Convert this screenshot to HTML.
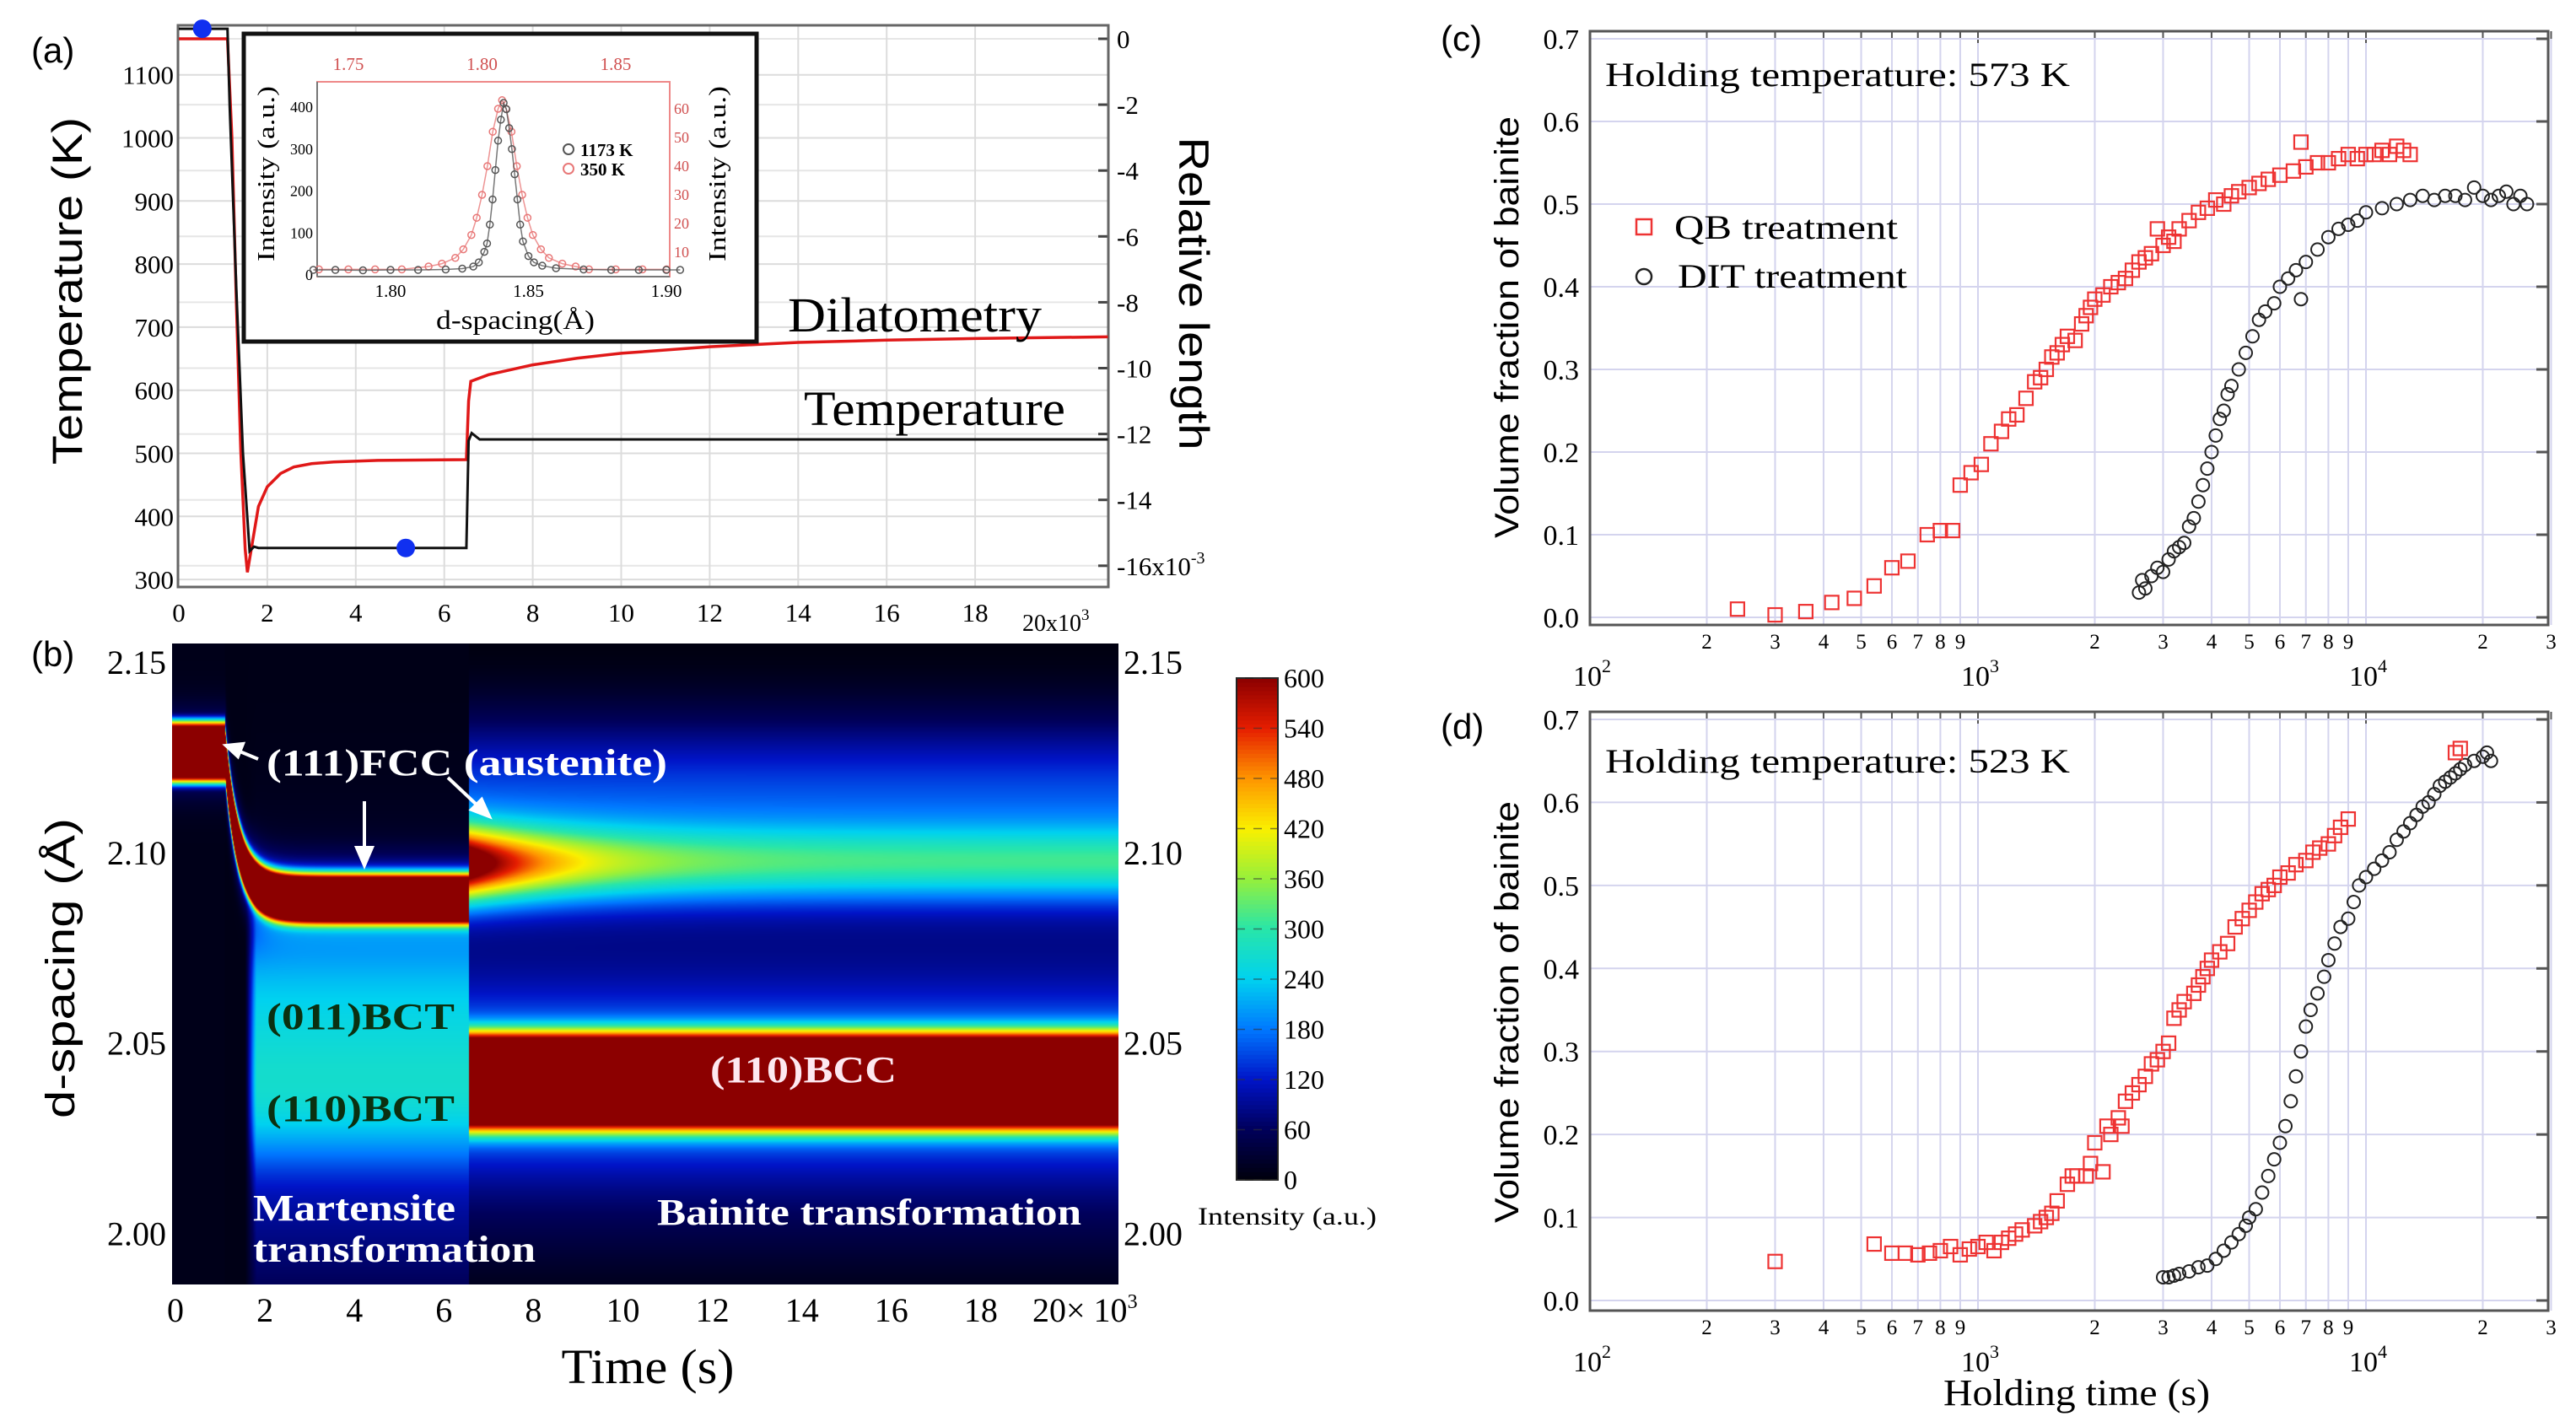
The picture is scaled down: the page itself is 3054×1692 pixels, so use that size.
<!DOCTYPE html>
<html><head><meta charset="utf-8"><style>
html,body{margin:0;padding:0;background:#fff}
#wrap{position:relative;width:3054px;height:1692px;overflow:hidden;background:#fff}
#heat{position:absolute;left:204px;top:763px}
#fig{position:absolute;left:0;top:0}
text{font-family:"Liberation Serif",serif}
.sans{font-family:"Liberation Sans",sans-serif}
</style></head><body>
<div id="wrap">
<canvas id="heat" width="1122" height="760"></canvas>
<svg id="fig" width="3054" height="1692" viewBox="0 0 3054 1692" xmlns="http://www.w3.org/2000/svg">
<g id="pa"></g>
<g id="pb"></g>
<g id="pc"></g>
<g id="pd"></g>
<text class="sans" x="37" y="74" font-size="42">(a)</text>
<text class="sans" x="37" y="790" font-size="42">(b)</text>
<text class="sans" x="1708" y="60" font-size="42">(c)</text>
<text class="sans" x="1708" y="876" font-size="42">(d)</text>
<text class="sans" transform="translate(97,345) rotate(-90)" text-anchor="middle" font-size="50" textLength="412" lengthAdjust="spacingAndGlyphs">Temperature (K)</text>
<text class="sans" transform="translate(1398,348) rotate(90)" text-anchor="middle" font-size="50" textLength="371" lengthAdjust="spacingAndGlyphs">Relative length</text>
<text x="934" y="393" font-size="58" textLength="301" lengthAdjust="spacingAndGlyphs">Dilatometry</text>
<text x="953" y="504" font-size="58" textLength="310" lengthAdjust="spacingAndGlyphs">Temperature</text>
<text class="sans" transform="translate(88,1148) rotate(-90)" text-anchor="middle" font-size="48" textLength="356" lengthAdjust="spacingAndGlyphs">d-spacing (Å)</text>
<text x="768" y="1640" text-anchor="middle" font-size="58" textLength="205" lengthAdjust="spacingAndGlyphs">Time (s)</text>
<text x="1526" y="1452" text-anchor="middle" font-size="30" textLength="212" lengthAdjust="spacingAndGlyphs">Intensity (a.u.)</text>
<text x="316" y="919" font-size="44" font-weight="bold" fill="#fff" textLength="475" lengthAdjust="spacingAndGlyphs">(111)FCC (austenite)</text>
<text x="316" y="1220" font-size="44" font-weight="bold" fill="#0b3010" textLength="223" lengthAdjust="spacingAndGlyphs">(011)BCT</text>
<text x="316" y="1329" font-size="44" font-weight="bold" fill="#0b3010" textLength="223" lengthAdjust="spacingAndGlyphs">(110)BCT</text>
<text x="842" y="1283" font-size="44" font-weight="bold" fill="#fde8f0" textLength="221" lengthAdjust="spacingAndGlyphs">(110)BCC</text>
<text x="300" y="1447" font-size="44" font-weight="bold" fill="#fff" textLength="240" lengthAdjust="spacingAndGlyphs">Martensite</text>
<text x="300" y="1496" font-size="44" font-weight="bold" fill="#fff" textLength="335" lengthAdjust="spacingAndGlyphs">transformation</text>
<text x="779" y="1452" font-size="44" font-weight="bold" fill="#fff" textLength="503" lengthAdjust="spacingAndGlyphs">Bainite transformation</text>
<g stroke="#fff" stroke-width="4" fill="#fff">
<line x1="306" y1="900" x2="282" y2="890"/><polygon points="268,884 288,882 282,897"/>
<line x1="432" y1="950" x2="432" y2="1008"/><polygon points="432,1026 423,1005 441,1005"/>
<line x1="531" y1="922" x2="566" y2="955"/><polygon points="580,968 559,960 571,948"/>
</g>
<text x="1903" y="102" font-size="40" textLength="551" lengthAdjust="spacingAndGlyphs">Holding temperature: 573 K</text>
<text x="1903" y="916" font-size="40" textLength="551" lengthAdjust="spacingAndGlyphs">Holding temperature: 523 K</text>
<rect x="1940" y="260" width="18" height="18" fill="none" stroke="#e33" stroke-width="2.5"/>
<text x="1985" y="283" font-size="40" textLength="265" lengthAdjust="spacingAndGlyphs">QB treatment</text>
<circle cx="1949" cy="328" r="9" fill="none" stroke="#222" stroke-width="2.5"/>
<text x="1989" y="341" font-size="40" textLength="272" lengthAdjust="spacingAndGlyphs">DIT treatment</text>
<text class="sans" transform="translate(1800,388) rotate(-90)" text-anchor="middle" font-size="40" textLength="500" lengthAdjust="spacingAndGlyphs">Volume fraction of bainite</text>
<text class="sans" transform="translate(1800,1200) rotate(-90)" text-anchor="middle" font-size="40" textLength="500" lengthAdjust="spacingAndGlyphs">Volume fraction of bainite</text>
<text x="2462" y="1666" text-anchor="middle" font-size="44" textLength="316" lengthAdjust="spacingAndGlyphs">Holding time (s)</text>
</svg>
</div>
<script>
// ---------- Panel (a) data ----------
const tempTime = [0,1.1,1.15,1.3,1.45,1.6,1.7,1.8,6.5,6.55,6.62,6.8,21];
const tempK = [1173,1173,1050,760,500,345,352,350,350,520,532,522,522];
const dilTime = [0,1.1,1.2,1.3,1.4,1.5,1.55,1.6,1.7,1.8,2.0,2.3,2.6,3.0,3.5,4.5,6.5,6.55,6.6,7,8,9,10,12,14,16,18,21];
const dilVal = [0,0,-3,-8,-12.5,-15.5,-16.2,-15.8,-15,-14.2,-13.6,-13.2,-13.0,-12.9,-12.85,-12.8,-12.78,-11,-10.4,-10.2,-9.9,-9.7,-9.55,-9.35,-9.22,-9.15,-9.1,-9.05];
const dotTime = [0.53,5.13];
const dotK = [1173,350];
const aLeftTicks = [300,400,500,600,700,800,900,1000,1100];
const aRightTicks = [0,-2,-4,-6,-8,-10,-12,-14,-16];
const aTimeTicks = [0,2,4,6,8,10,12,14,16,18];
const insetBlackD = [1.772,1.78,1.79,1.80,1.81,1.82,1.826,1.830,1.832,1.834,1.835,1.836,1.837,1.838,1.839,1.840,1.841,1.842,1.843,1.844,1.845,1.846,1.847,1.848,1.850,1.852,1.855,1.86,1.87,1.88,1.89,1.90,1.905];
const insetBlackI = [12,12,11,12,12,13,15,20,30,55,75,120,180,250,320,370,410,395,350,300,240,180,120,80,45,30,22,16,13,12,12,12,12];
const insetRedD = [1.739,1.75,1.76,1.77,1.78,1.785,1.79,1.793,1.796,1.798,1.800,1.802,1.804,1.806,1.8075,1.809,1.811,1.813,1.815,1.817,1.819,1.822,1.825,1.83,1.835,1.84,1.85,1.86,1.869];
const insetRedI = [4,4,4,4,5,6,8,11,16,22,30,40,52,60,63,60,52,40,30,22,16,11,8,6,5,4,4,4,4];
const insetBottomTicks = [1.80,1.85,1.90];
const insetTopTicks = [1.75,1.80,1.85];
const insetLeftTicks = [0,100,200,300,400];
const insetRightTicks = [10,20,30,40,50,60];
// ---------- Panel (b) data ----------
const bTimeTicks = [0,2,4,6,8,10,12,14,16,18];
const bDTicks = [2.00,2.05,2.10,2.15];
const cbTicks = [0,60,120,180,240,300,360,420,480,540,600];
const cmapVal = [0,60,120,180,240,300,360,420,480,540,600];
const cmapR = [0,0,0,0,0,40,150,250,255,230,140];
const cmapG = [0,0,20,120,210,230,240,240,150,30,0];
const cmapB = [12,90,200,255,240,170,60,0,0,0,0];
const fccCenter = [2.1265];
const martCenter = [2.088];
const bccCenter = [2.040];
const austBainCenter = [2.097];
const stageTimes = [1.1, 1.55, 6.55];
// ---------- Panels (c),(d) data ----------
const cQBt = [240,300,360,420,480,540,600,660,740,800,860,900,960,1020,1080,1150,1200,1260,1330,1400,1450,1500,1550,1600,1650,1700,1780,1850,1900,1950,2000,2100,2200,2300,2400,2500,2600,2700,2800,2900,3000,3100,3200,3300,3500,3700,3900,4100,4300,4500,4700,5000,5300,5600,6000,6500,6800,7000,7500,8000,8500,9000,9500,10000,10500,11000,11500,12000,12500,13000];
const cQBv = [0.01,0.003,0.007,0.018,0.023,0.038,0.06,0.068,0.10,0.105,0.105,0.16,0.175,0.185,0.21,0.225,0.24,0.245,0.265,0.285,0.29,0.30,0.315,0.32,0.33,0.34,0.335,0.355,0.365,0.375,0.385,0.39,0.40,0.405,0.41,0.42,0.43,0.435,0.44,0.47,0.45,0.46,0.455,0.47,0.48,0.49,0.495,0.505,0.50,0.51,0.515,0.52,0.525,0.53,0.535,0.54,0.575,0.545,0.55,0.55,0.555,0.56,0.555,0.56,0.56,0.565,0.56,0.57,0.565,0.56];
const cDITt = [2600,2650,2700,2800,2900,3000,3100,3200,3300,3400,3500,3600,3700,3800,3900,4000,4100,4200,4300,4400,4500,4700,4900,5100,5300,5500,5800,6000,6300,6600,6800,7000,7500,8000,8500,9000,9500,10000,11000,12000,13000,14000,15000,16000,17000,18000,19000,20000,21000,22000,23000,24000,25000,26000];
const cDITv = [0.03,0.045,0.035,0.05,0.06,0.055,0.07,0.08,0.085,0.09,0.11,0.12,0.14,0.16,0.18,0.20,0.22,0.24,0.25,0.27,0.28,0.30,0.32,0.34,0.36,0.37,0.38,0.40,0.41,0.42,0.385,0.43,0.445,0.46,0.47,0.475,0.48,0.49,0.495,0.50,0.505,0.51,0.505,0.51,0.51,0.505,0.52,0.51,0.505,0.51,0.515,0.50,0.51,0.50];
const dQBt = [300,540,600,650,700,750,800,850,900,950,1000,1050,1100,1150,1200,1250,1300,1400,1450,1500,1550,1600,1700,1750,1800,1900,1950,2000,2100,2150,2200,2300,2350,2400,2500,2600,2700,2800,2900,3000,3100,3200,3300,3400,3600,3700,3800,3900,4000,4200,4400,4600,4800,5000,5200,5400,5600,5800,6000,6300,6600,7000,7300,7600,8000,8300,8600,9000,17000,17500];
const dQBv = [0.047,0.068,0.057,0.057,0.055,0.057,0.06,0.065,0.055,0.062,0.065,0.07,0.06,0.07,0.075,0.08,0.085,0.09,0.095,0.10,0.105,0.12,0.14,0.15,0.15,0.15,0.165,0.19,0.155,0.21,0.20,0.22,0.21,0.24,0.25,0.26,0.27,0.285,0.29,0.30,0.31,0.34,0.35,0.36,0.37,0.38,0.39,0.40,0.41,0.42,0.43,0.45,0.46,0.47,0.48,0.49,0.495,0.50,0.51,0.515,0.525,0.53,0.54,0.545,0.55,0.56,0.57,0.58,0.66,0.665];
const dDITt = [3000,3100,3200,3300,3500,3700,3900,4100,4300,4500,4700,4900,5000,5200,5400,5600,5800,6000,6200,6400,6600,6800,7000,7200,7500,7800,8000,8300,8600,9000,9300,9600,10000,10500,11000,11500,12000,12500,13000,13500,14000,14500,15000,15500,16000,16500,17000,17500,18000,19000,20000,20500,21000];
const dDITv = [0.028,0.028,0.03,0.032,0.035,0.04,0.042,0.05,0.06,0.07,0.08,0.09,0.10,0.11,0.13,0.15,0.17,0.19,0.21,0.24,0.27,0.30,0.33,0.35,0.37,0.39,0.41,0.43,0.45,0.46,0.48,0.50,0.51,0.52,0.53,0.54,0.555,0.565,0.575,0.585,0.595,0.60,0.61,0.62,0.625,0.63,0.635,0.64,0.645,0.65,0.655,0.66,0.65];
const yFracTicks = [0.0,0.1,0.2,0.3,0.4,0.5,0.6,0.7];

const NS='http://www.w3.org/2000/svg';
function el(tag, parent){const e=document.createElementNS(NS,tag);parent.appendChild(e);return e;}
function sa(e,o){for(const k in o)e.setAttribute(k,o[k]);return e;}

// ===== Panel (a) =====
const pa=document.getElementById('pa');
const aX=t=>212+t*52.45, aYK=k=>88.7+(1100-k)*0.748, aYR=v=>46-v*39.05;
const AL=211,AR=1314,AT=30,AB=696;
aLeftTicks.forEach(k=>{const g=el('line',pa);sa(g,{x1:AL,x2:AR,y1:aYK(k),y2:aYK(k),stroke:'#dcdcdc','stroke-width':2});

const t=el('text',pa);sa(t,{x:206,y:aYK(k)+11,'text-anchor':'end','font-size':31});t.textContent=k;
});
aRightTicks.forEach((v,i)=>{const g=el('line',pa);sa(g,{x1:AL,x2:AR,y1:aYR(v),y2:aYR(v),stroke:'#e6e6e6','stroke-width':2});

const tk=el('line',pa);sa(tk,{x1:AR-12,x2:AR,y1:aYR(v),y2:aYR(v),stroke:'#444','stroke-width':3});

const t=el('text',pa);sa(t,{x:1324,y:aYR(v)+11,'font-size':31});t.textContent=(i==aRightTicks.length-1? v+'x10':v);

if(i==aRightTicks.length-1){const s=el('tspan',t);sa(s,{dy:-14,'font-size':20});s.textContent='-3';}});
aTimeTicks.forEach(v=>{if(v>0){const g=el('line',pa);sa(g,{x1:aX(v),x2:aX(v),y1:AT,y2:AB,stroke:'#dcdcdc','stroke-width':2});
}
const t=el('text',pa);sa(t,{x:aX(v),y:737,'text-anchor':'middle','font-size':31});t.textContent=v;
});
{const t=el('text',pa);sa(t,{x:1212,y:748,'font-size':28});t.textContent='20x10';const s=el('tspan',t);sa(s,{dy:-13,'font-size':19});s.textContent='3';
}
{const f=el('rect',pa);sa(f,{x:AL,y:AT,width:AR-AL,height:AB-AT,fill:'none',stroke:'#666','stroke-width':3});
}
{const p=el('polyline',pa);sa(p,{points:dilTime.map((t,i)=>aX(t)+','+aYR(dilVal[i])).join(' '),fill:'none',stroke:'#e01818','stroke-width':3.5});
}
{const p=el('polyline',pa);sa(p,{points:tempTime.map((t,i)=>aX(t)+','+aYK(tempK[i])).join(' '),fill:'none',stroke:'#111','stroke-width':3});
}
dotTime.forEach((t,i)=>{const c=el('circle',pa);sa(c,{cx:aX(t),cy:aYK(dotK[i]),r:11,fill:'#1030f0'});
});
{const r=el('rect',pa);sa(r,{x:289,y:40,width:608,height:365,fill:'#fff',stroke:'#111','stroke-width':5});
}
const iL=376,iR=794,iT=97,iB=328;
const iXb=d=>463+(d-1.80)*3270, iXt=d=>413+(d-1.75)*3170, iYl=v=>326-v*0.4975, iYr=v=>333-v*3.4;
{const r=el('rect',pa);sa(r,{x:iL,y:iT,width:iR-iL,height:iB-iT,fill:'none',stroke:'#e88','stroke-width':2});

const l=el('line',pa);sa(l,{x1:iL,x2:iL,y1:iT,y2:iB,stroke:'#777','stroke-width':2});
const b=el('line',pa);sa(b,{x1:iL,x2:iR,y1:iB,y2:iB,stroke:'#777','stroke-width':2});}
insetBottomTicks.forEach(v=>{const t=el('text',pa);sa(t,{x:iXb(v),y:352,'text-anchor':'middle','font-size':21});t.textContent=v.toFixed(2);
});
insetTopTicks.forEach(v=>{const t=el('text',pa);sa(t,{x:iXt(v),y:83,'text-anchor':'middle','font-size':21,fill:'#d05050'});t.textContent=v.toFixed(2);
});
insetLeftTicks.forEach(v=>{const t=el('text',pa);sa(t,{x:iL-5,y:iYl(v)+6,'text-anchor':'end','font-size':18});t.textContent=v;
});
insetRightTicks.forEach(v=>{const t=el('text',pa);sa(t,{x:iR+5,y:iYr(v)+6,'font-size':18,fill:'#d05050'});t.textContent=v;
});
{const t=el('text',pa);sa(t,{x:611,y:390,'text-anchor':'middle','font-size':32,textLength:188,lengthAdjust:'spacingAndGlyphs'});t.textContent='d-spacing(Å)';

const a=el('text',pa);sa(a,{transform:'translate(325,206) rotate(-90)','text-anchor':'middle','font-size':28,textLength:208,lengthAdjust:'spacingAndGlyphs'});a.textContent='Intensity (a.u.)';

const b=el('text',pa);sa(b,{transform:'translate(860,206) rotate(-90)','text-anchor':'middle','font-size':28,textLength:208,lengthAdjust:'spacingAndGlyphs'});b.textContent='Intensity (a.u.)';
}
function insetSeries(ds,is,xf,yf,col,name){const p=el('polyline',pa);sa(p,{points:ds.map((d,i)=>xf(d)+','+yf(is[i])).join(' '),fill:'none',stroke:col,'stroke-width':1.5,opacity:0.8});

ds.forEach((d,i)=>{const c=el('circle',pa);sa(c,{cx:xf(d),cy:yf(is[i]),r:4,fill:'none',stroke:col,'stroke-width':1.5});
});}
insetSeries(insetRedD,insetRedI,iXt,iYr,'#e87878','inset-350k');
insetSeries(insetBlackD,insetBlackI,iXb,iYl,'#555','inset-1173k');
[[177,'#555','1173 K','inset-legend-1173k'],[200,'#e87878','350 K','inset-legend-350k']].forEach(r=>{
const c=el('circle',pa);sa(c,{cx:674,cy:r[0],r:6,fill:'none',stroke:r[1],'stroke-width':2});
const t=el('text',pa);sa(t,{x:688,y:r[0]+8,'font-size':21,'font-weight':'bold'});t.textContent=r[2];});

// ===== Panel (b) =====
const pb=document.getElementById('pb');
const HL=204,HR=1326,HT=763,HB=1523;
const bX=t=>208+t*53.05, bY=d=>785+(2.15-d)*4516;
function cmap(v){v=Math.max(0,Math.min(600,v));let i=0;while(i<cmapVal.length-2&&v>cmapVal[i+1])i++;
const f=(v-cmapVal[i])/(cmapVal[i+1]-cmapVal[i]);return [cmapR[i]+f*(cmapR[i+1]-cmapR[i]),cmapG[i]+f*(cmapG[i+1]-cmapG[i]),cmapB[i]+f*(cmapB[i+1]-cmapB[i])];}
const g=(x,c,s)=>Math.exp(-0.5*((x-c)/s)**2);
function intensity(t,d){
 if(t<stageTimes[0]) return 10+700*Math.exp(-Math.pow((d-fccCenter[0])/0.0082,6))+120*g(d,fccCenter[0],0.007);
 if(t<stageTimes[2]){
  const c=martCenter[0]+(fccCenter[0]-martCenter[0])*Math.exp(-(t-stageTimes[0])/0.3);
  let v=8+760*Math.exp(-Math.pow((d-c)/0.0065,4))+180*g(d,c,0.0065);
  const r=Math.max(0,Math.min(1,(t-stageTimes[1])/0.25));
  v+=r*(160*Math.exp(-Math.pow((d-2.052)/0.032,4))+110*g(d,2.03,0.035));
  return v;}
 let v=75*Math.exp(-Math.pow((d-2.065)/0.072,6));
 v+=800*Math.exp(-Math.pow((d-bccCenter[0])/0.0125,4))+190*g(d,bccCenter[0],0.0135);
 const A=190+380*Math.exp(-(t-6.6)/2.0);
 v+=A*g(d,austBainCenter[0],0.0068)+90*g(d,2.113,0.014);
 return v;}
(function(){const cv=document.getElementById('heat');const ctx=cv.getContext('2d');const W=cv.width,H=cv.height;
const img=ctx.createImageData(W,H);
for(let x=0;x<W;x++){const t=(HL+x-208)/53.05;
 for(let y=0;y<H;y++){const d=2.15-(HT+y-785)/4516;const c=cmap(intensity(t,d));const k=(y*W+x)*4;
  img.data[k]=c[0];img.data[k+1]=c[1];img.data[k+2]=c[2];img.data[k+3]=255;}}
ctx.putImageData(img,0,0);})();
bTimeTicks.forEach(v=>{const t=el('text',pb);sa(t,{x:bX(v),y:1567,'text-anchor':'middle','font-size':40});t.textContent=v;
});
{const t=el('text',pb);sa(t,{x:1224,y:1567,'font-size':40});t.textContent='20× 10';const s=el('tspan',t);sa(s,{dy:-16,'font-size':24});s.textContent='3';
}
bDTicks.forEach(v=>{const a=el('text',pb);sa(a,{x:197,y:bY(v)+14,'text-anchor':'end','font-size':40});a.textContent=v.toFixed(2);

const b=el('text',pb);sa(b,{x:1332,y:bY(v)+14,'font-size':40});b.textContent=v.toFixed(2);
});
const CBx=1466,CBw=49,CBt=804,CBb=1399;
const cbY=v=>CBb-(v/600)*(CBb-CBt);
for(let i=0;i<120;i++){const v0=i*5;const c=cmap(v0+2.5);const r=el('rect',pb);
sa(r,{x:CBx,y:cbY(v0+5),width:CBw,height:(CBb-CBt)/120+0.6,fill:`rgb(${c[0]|0},${c[1]|0},${c[2]|0})`});
}
{const f=el('rect',pb);sa(f,{x:CBx,y:CBt,width:CBw,height:CBb-CBt,fill:'none',stroke:'#222','stroke-width':2});
}
cbTicks.forEach(v=>{const l=el('line',pb);sa(l,{x1:CBx,x2:CBx+CBw,y1:cbY(v),y2:cbY(v),stroke:'#333','stroke-width':1.5,'stroke-dasharray':'10 10',opacity:0.6});

const t=el('text',pb);sa(t,{x:1522,y:cbY(v)+11,'font-size':32});t.textContent=v;
});

// ===== Panels (c),(d) =====
const lx=t=>1885+460*(Math.log10(t)-2);
function fracPanel(gid,top,bottom,y0,qbT,qbV,ditT,ditV){
 const P=document.getElementById(gid);const L=1885,R=3021;const yv=v=>y0-v*((y0-(top+9))/0.7);
 const minors=[];[100,1000,10000].forEach(dec=>{for(let m=1;m<=9;m++){const t=dec*m;if(t<=30000)minors.push(t);}});
 minors.forEach(t=>{if(t>100){const l=el('line',P);sa(l,{x1:lx(t),x2:lx(t),y1:top,y2:bottom,stroke:'#d4d4ee','stroke-width':2});
  
  const tk=el('line',P);sa(tk,{x1:lx(t),x2:lx(t),y1:top,y2:top+([1000,10000].includes(t)?14:9),stroke:'#555','stroke-width':2});
  
  const m=Math.round(t/Math.pow(10,Math.floor(Math.log10(t)+1e-9)));
  if(m>1){const s=el('text',P);sa(s,{x:lx(t),y:bottom+28,'text-anchor':'middle','font-size':25});s.textContent=m;
  }}});
 yFracTicks.forEach(v=>{const l=el('line',P);sa(l,{x1:L,x2:R,y1:yv(v),y2:yv(v),stroke:'#d4d4ee','stroke-width':2});
  
  const tk=el('line',P);sa(tk,{x1:R-14,x2:R,y1:yv(v),y2:yv(v),stroke:'#555','stroke-width':3});
  
  const t=el('text',P);sa(t,{x:1872,y:yv(v)+12,'text-anchor':'end','font-size':34});t.textContent=v.toFixed(1);
  });
 [[100,'2'],[1000,'3'],[10000,'4']].forEach(d=>{const t=el('text',P);sa(t,{x:lx(d[0])-20,y:bottom+72,'font-size':34});t.textContent='10';
  const s=el('tspan',t);sa(s,{dy:-16,'font-size':22});s.textContent=d[1];});
 const f=el('rect',P);sa(f,{x:L,y:top,width:R-L,height:bottom-top,fill:'none',stroke:'#555','stroke-width':3});
 
 ditT.forEach((t,i)=>{const c=el('circle',P);sa(c,{cx:lx(t),cy:yv(ditV[i]),r:7.5,fill:'none',stroke:'#222','stroke-width':2});
  });
 qbT.forEach((t,i)=>{const r=el('rect',P);sa(r,{x:lx(t)-8,y:yv(qbV[i])-8,width:16,height:16,fill:'none',stroke:'#e33','stroke-width':2.2});
  });
}
fracPanel('pc',37,741,732,cQBt,cQBv,cDITt,cDITv);
fracPanel('pd',844,1554,1542,dQBt,dQBv,dDITt,dDITv);
</script>
</body></html>
